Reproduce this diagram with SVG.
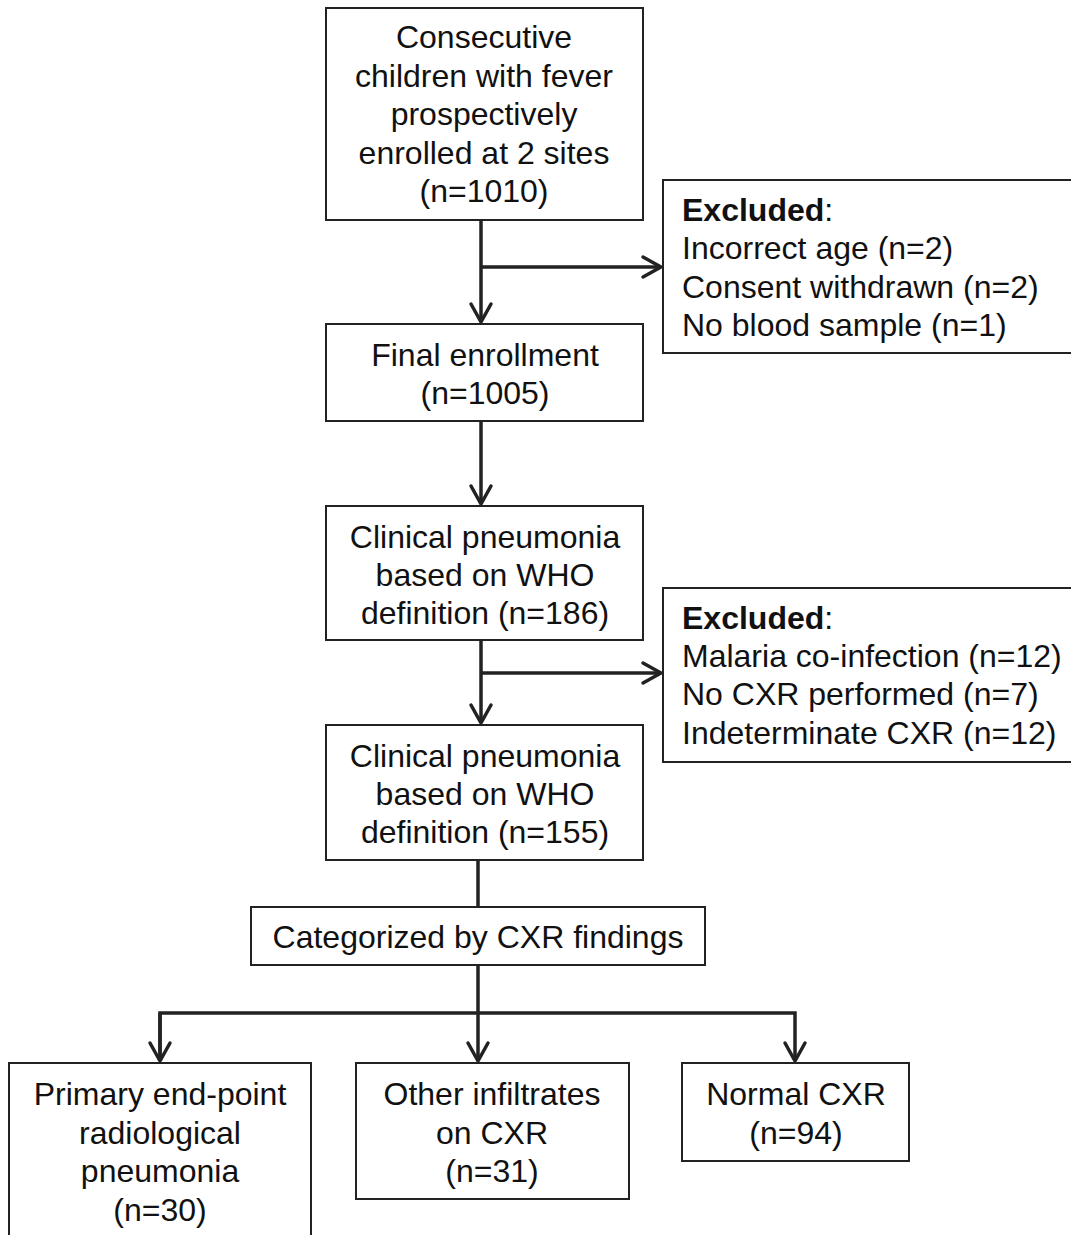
<svg xmlns="http://www.w3.org/2000/svg" width="1071" height="1235" viewBox="0 0 1071 1235">
<defs>
<marker id="ah" viewBox="0 0 24 24" refX="21" refY="12" markerWidth="24" markerHeight="24" markerUnits="userSpaceOnUse" orient="auto" overflow="visible">
<polyline points="3,2 21,12 3,22" fill="none" stroke="#222" stroke-width="3.5" stroke-linejoin="round" stroke-linecap="round"/>
</marker>
<style>
.box{fill:#fff;stroke:#222;stroke-width:2}
.t{font-family:"Liberation Sans",Arial,sans-serif;font-size:32px;fill:#111;text-anchor:middle}
.l{font-family:"Liberation Sans",Arial,sans-serif;font-size:32px;fill:#111;text-anchor:start}
.c{fill:none;stroke:#222;stroke-width:3.5}
</style>
</defs>
<rect width="1071" height="1235" fill="#fff"/>
<g id="connectors">
<line class="c" x1="481" y1="220" x2="481" y2="322" marker-end="url(#ah)"/>
<line class="c" x1="481" y1="267" x2="661" y2="267" marker-end="url(#ah)"/>
<line class="c" x1="481" y1="421" x2="481" y2="504" marker-end="url(#ah)"/>
<line class="c" x1="481" y1="640" x2="481" y2="723" marker-end="url(#ah)"/>
<line class="c" x1="481" y1="673" x2="661" y2="673" marker-end="url(#ah)"/>
<line class="c" x1="478" y1="860" x2="478" y2="907"/>
<line class="c" x1="478" y1="965" x2="478" y2="1061" marker-end="url(#ah)"/>
<polyline class="c" points="160,1061 160,1013 795,1013 795,1061" marker-end="url(#ah)"/>
<line class="c" x1="160" y1="1013" x2="160" y2="1061" marker-end="url(#ah)"/>
</g>
<g id="n1">
<rect class="box" x="326" y="8" width="317" height="212"/>
<text class="t" x="484" y="48">Consecutive</text>
<text class="t" x="484" y="87">children with fever</text>
<text class="t" x="484" y="125">prospectively</text>
<text class="t" x="484" y="164">enrolled at 2 sites</text>
<text class="t" x="484" y="202">(n=1010)</text>
</g>
<g id="ex1">
<rect class="box" x="663" y="180" width="420" height="173"/>
<text class="l" x="682" y="221"><tspan font-weight="bold">Excluded</tspan>:</text>
<text class="l" x="682" y="259">Incorrect age (n=2)</text>
<text class="l" x="682" y="298">Consent withdrawn (n=2)</text>
<text class="l" x="682" y="336">No blood sample (n=1)</text>
</g>
<g id="n2">
<rect class="box" x="326" y="324" width="317" height="97"/>
<text class="t" x="485" y="366">Final enrollment</text>
<text class="t" x="485" y="404">(n=1005)</text>
</g>
<g id="n3">
<rect class="box" x="326" y="506" width="317" height="134"/>
<text class="t" x="485" y="548">Clinical pneumonia</text>
<text class="t" x="485" y="586">based on WHO</text>
<text class="t" x="485" y="624">definition (n=186)</text>
</g>
<g id="ex2">
<rect class="box" x="663" y="588" width="420" height="174"/>
<text class="l" x="682" y="629"><tspan font-weight="bold">Excluded</tspan>:</text>
<text class="l" x="682" y="667">Malaria co-infection (n=12)</text>
<text class="l" x="682" y="705">No CXR performed (n=7)</text>
<text class="l" x="682" y="744">Indeterminate CXR (n=12)</text>
</g>
<g id="n4">
<rect class="box" x="326" y="725" width="317" height="135"/>
<text class="t" x="485" y="767">Clinical pneumonia</text>
<text class="t" x="485" y="805">based on WHO</text>
<text class="t" x="485" y="843">definition (n=155)</text>
</g>
<g id="n5">
<rect class="box" x="251" y="907" width="454" height="58"/>
<text class="t" x="478" y="948">Categorized by CXR findings</text>
</g>
<g id="n6">
<rect class="box" x="9" y="1063" width="302" height="190"/>
<text class="t" x="160" y="1105">Primary end-point</text>
<text class="t" x="160" y="1144">radiological</text>
<text class="t" x="160" y="1182">pneumonia</text>
<text class="t" x="160" y="1221">(n=30)</text>
</g>
<g id="n7">
<rect class="box" x="356" y="1063" width="273" height="136"/>
<text class="t" x="492" y="1105">Other infiltrates</text>
<text class="t" x="492" y="1144">on CXR</text>
<text class="t" x="492" y="1182">(n=31)</text>
</g>
<g id="n8">
<rect class="box" x="682" y="1063" width="227" height="98"/>
<text class="t" x="796" y="1105">Normal CXR</text>
<text class="t" x="796" y="1144">(n=94)</text>
</g>
</svg>
